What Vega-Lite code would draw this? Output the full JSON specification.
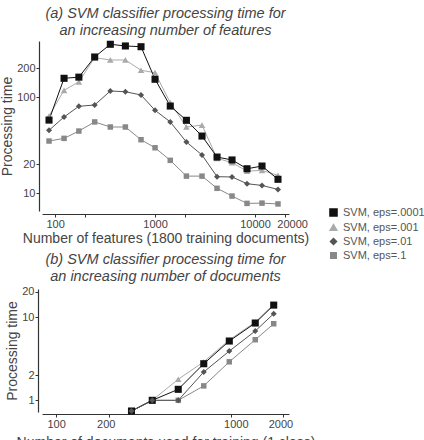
{
  "$schema": "https://vega.github.io/schema/vega-lite/v6.json",
  "padding": {"left": 0, "top": 6, "right": 0, "bottom": 0},
  "background": "white",
  "spacing": 78,
  "bounds": "flush",
  "config": {
    "font": "Liberation Sans",
    "view": {"stroke": null},
    "axis": {"domainColor": "#333", "tickColor": "#333", "labelColor": "#444", "titleColor": "#444", "labelFont": "Liberation Sans", "titleFont": "Liberation Sans", "labelFontSize": 11, "titleFontSize": 14, "titleFontWeight": "normal", "grid": false, "tickSize": 3, "labelPadding": 1, "domainWidth": 1.2, "labelOverlap": false, "labelBound": false, "labelFlush": false, "titlePadding": 2},
    "title": {"font": "Liberation Sans", "fontStyle": "italic", "fontWeight": "normal", "fontSize": 14.5, "color": "#444", "anchor": "middle", "lineHeight": 17},
    "legend": {"labelFont": "Liberation Sans", "labelFontSize": 11, "labelColor": "#555", "symbolSize": 25, "rowPadding": 1}
  },
  "resolve": {
    "scale": {"color": "independent", "shape": "independent", "size": "independent"},
    "legend": {"color": "independent", "shape": "independent", "size": "independent"}
  },
  "datasets": {
    "a": [
      {"series": "SVM, eps=.1", "features": 87, "time": 34.8},
      {"series": "SVM, eps=.1", "features": 123, "time": 37.1},
      {"series": "SVM, eps=.1", "features": 173, "time": 44.2},
      {"series": "SVM, eps=.1", "features": 249, "time": 55},
      {"series": "SVM, eps=.1", "features": 357, "time": 48.7},
      {"series": "SVM, eps=.1", "features": 505, "time": 48.7},
      {"series": "SVM, eps=.1", "features": 724, "time": 35.9},
      {"series": "SVM, eps=.1", "features": 1000, "time": 29.6},
      {"series": "SVM, eps=.1", "features": 1420, "time": 21.9},
      {"series": "SVM, eps=.1", "features": 2060, "time": 15.0},
      {"series": "SVM, eps=.1", "features": 2950, "time": 15.0},
      {"series": "SVM, eps=.1", "features": 4170, "time": 11.2},
      {"series": "SVM, eps=.1", "features": 5890, "time": 9.3},
      {"series": "SVM, eps=.1", "features": 8320, "time": 7.8},
      {"series": "SVM, eps=.1", "features": 11750, "time": 7.85},
      {"series": "SVM, eps=.1", "features": 16980, "time": 7.7},
      {"series": "SVM, eps=.01", "features": 87, "time": 45},
      {"series": "SVM, eps=.01", "features": 123, "time": 62},
      {"series": "SVM, eps=.01", "features": 173, "time": 80},
      {"series": "SVM, eps=.01", "features": 249, "time": 82.6},
      {"series": "SVM, eps=.01", "features": 357, "time": 115.5},
      {"series": "SVM, eps=.01", "features": 505, "time": 113.5},
      {"series": "SVM, eps=.01", "features": 724, "time": 105},
      {"series": "SVM, eps=.01", "features": 1000, "time": 72.7},
      {"series": "SVM, eps=.01", "features": 1420, "time": 55},
      {"series": "SVM, eps=.01", "features": 2060, "time": 34},
      {"series": "SVM, eps=.01", "features": 2950, "time": 24.9},
      {"series": "SVM, eps=.01", "features": 4170, "time": 14.8},
      {"series": "SVM, eps=.01", "features": 5890, "time": 14.7},
      {"series": "SVM, eps=.01", "features": 8320, "time": 12.5},
      {"series": "SVM, eps=.01", "features": 11750, "time": 12.0},
      {"series": "SVM, eps=.01", "features": 16980, "time": 10.9},
      {"series": "SVM, eps=.001", "features": 87, "time": 63.4},
      {"series": "SVM, eps=.001", "features": 123, "time": 117.5},
      {"series": "SVM, eps=.001", "features": 173, "time": 144},
      {"series": "SVM, eps=.001", "features": 249, "time": 257},
      {"series": "SVM, eps=.001", "features": 357, "time": 243},
      {"series": "SVM, eps=.001", "features": 505, "time": 243},
      {"series": "SVM, eps=.001", "features": 724, "time": 190},
      {"series": "SVM, eps=.001", "features": 1000, "time": 179},
      {"series": "SVM, eps=.001", "features": 1420, "time": 87.2},
      {"series": "SVM, eps=.001", "features": 2060, "time": 48.7},
      {"series": "SVM, eps=.001", "features": 2950, "time": 51},
      {"series": "SVM, eps=.001", "features": 4170, "time": 23.0},
      {"series": "SVM, eps=.001", "features": 5890, "time": 20.7},
      {"series": "SVM, eps=.001", "features": 8320, "time": 16.9},
      {"series": "SVM, eps=.001", "features": 11750, "time": 17.2},
      {"series": "SVM, eps=.001", "features": 16980, "time": 15.3},
      {"series": "SVM, eps=.0001", "features": 87, "time": 57.5},
      {"series": "SVM, eps=.0001", "features": 123, "time": 156.6},
      {"series": "SVM, eps=.0001", "features": 173, "time": 161},
      {"series": "SVM, eps=.0001", "features": 249, "time": 261},
      {"series": "SVM, eps=.0001", "features": 357, "time": 354},
      {"series": "SVM, eps=.0001", "features": 505, "time": 340},
      {"series": "SVM, eps=.0001", "features": 724, "time": 334},
      {"series": "SVM, eps=.0001", "features": 1000, "time": 153},
      {"series": "SVM, eps=.0001", "features": 1420, "time": 80.5},
      {"series": "SVM, eps=.0001", "features": 2060, "time": 57.2},
      {"series": "SVM, eps=.0001", "features": 2950, "time": 39.2},
      {"series": "SVM, eps=.0001", "features": 4170, "time": 23.7},
      {"series": "SVM, eps=.0001", "features": 5890, "time": 22.1},
      {"series": "SVM, eps=.0001", "features": 8320, "time": 17.9},
      {"series": "SVM, eps=.0001", "features": 11750, "time": 19.1},
      {"series": "SVM, eps=.0001", "features": 16980, "time": 13.9}
    ],
    "b": [
      {"series": "SVM, eps=.1", "docs": 270, "time": 0.744},
      {"series": "SVM, eps=.1", "docs": 355, "time": 1.0},
      {"series": "SVM, eps=.1", "docs": 500, "time": 1.0},
      {"series": "SVM, eps=.1", "docs": 700, "time": 1.49},
      {"series": "SVM, eps=.1", "docs": 980, "time": 2.9},
      {"series": "SVM, eps=.1", "docs": 1380, "time": 5.34},
      {"series": "SVM, eps=.1", "docs": 1760, "time": 8.3},
      {"series": "SVM, eps=.001", "docs": 270, "time": 0.744},
      {"series": "SVM, eps=.001", "docs": 355, "time": 1.0},
      {"series": "SVM, eps=.001", "docs": 500, "time": 1.79},
      {"series": "SVM, eps=.001", "docs": 700, "time": 2.9},
      {"series": "SVM, eps=.001", "docs": 980, "time": 5.3},
      {"series": "SVM, eps=.001", "docs": 1380, "time": 8.7},
      {"series": "SVM, eps=.001", "docs": 1760, "time": 14.2},
      {"series": "SVM, eps=.0001", "docs": 270, "time": 0.744},
      {"series": "SVM, eps=.0001", "docs": 355, "time": 1.0},
      {"series": "SVM, eps=.0001", "docs": 500, "time": 1.355},
      {"series": "SVM, eps=.0001", "docs": 700, "time": 2.75},
      {"series": "SVM, eps=.0001", "docs": 980, "time": 5.15},
      {"series": "SVM, eps=.0001", "docs": 1380, "time": 8.47},
      {"series": "SVM, eps=.0001", "docs": 1760, "time": 13.9},
      {"series": "SVM, eps=.01", "docs": 270, "time": 0.744},
      {"series": "SVM, eps=.01", "docs": 355, "time": 1.0},
      {"series": "SVM, eps=.01", "docs": 500, "time": 1.0},
      {"series": "SVM, eps=.01", "docs": 700, "time": 2.19},
      {"series": "SVM, eps=.01", "docs": 980, "time": 3.9},
      {"series": "SVM, eps=.01", "docs": 1380, "time": 6.79},
      {"series": "SVM, eps=.01", "docs": 1760, "time": 10.96}
    ]
  },
  "vconcat": [
    {
      "title": {"text": ["(a) SVM classifier processing time for", "an increasing number of features"], "offset": 2},
      "width": 247,
      "height": 170,
      "data": {"name": "a"},
      "encoding": {
        "x": {"field": "features", "type": "quantitative", "scale": {"type": "log", "domain": [74, 21880], "nice": false}, "axis": {"values": [100, 200, 1000, 2000, 10000, 20000], "format": "d", "labelExpr": "datum.value == 200 || datum.value == 2000 ? '' : datum.label", "labelOffset": {"condition": {"test": "datum.value == 20000", "value": 7}, "value": 0}, "title": "Number of features (1800 training documents)", "offset": 3}},
        "y": {"field": "time", "type": "quantitative", "scale": {"type": "log", "domain": [6.5, 383], "nice": false}, "axis": {"values": [10, 20, 100, 200], "format": "d", "title": "Processing time", "offset": 3}},
        "color": {"field": "series", "type": "nominal", "scale": {"domain": ["SVM, eps=.0001", "SVM, eps=.001", "SVM, eps=.01", "SVM, eps=.1"], "range": ["#111111", "#aaaaaa", "#555555", "#888888"]}, "legend": {"title": null, "orient": "none", "legendX": 286, "legendY": 166}}
      },
      "layer": [
        {"mark": {"type": "line", "strokeWidth": 1}, "encoding": {}},
        {"mark": {"type": "point", "filled": true, "opacity": 1}, "encoding": {
          "shape": {"field": "series", "type": "nominal", "scale": {"domain": ["SVM, eps=.0001", "SVM, eps=.001", "SVM, eps=.01", "SVM, eps=.1"], "range": ["square", "triangle-up", "diamond", "square"]}, "legend": {"title": null, "orient": "none", "legendX": 286, "legendY": 166}},
          "size": {"field": "series", "type": "nominal", "scale": {"domain": ["SVM, eps=.0001", "SVM, eps=.001", "SVM, eps=.01", "SVM, eps=.1"], "range": [50, 30, 30, 22]}, "legend": null}
        }}
      ]
    },
    {
      "title": {"text": ["(b) SVM classifier processing time for", "an increasing number of documents"], "offset": 1},
      "width": 247,
      "height": 123,
      "data": {"name": "b"},
      "encoding": {
        "x": {"field": "docs", "type": "quantitative", "scale": {"type": "log", "domain": [83, 2153], "nice": false}, "axis": {"values": [100, 200, 1000, 2000], "format": "d", "labelOffset": {"condition": [{"test": "datum.value == 200", "value": -3}, {"test": "datum.value == 1000", "value": 5}, {"test": "datum.value == 2000", "value": -3}], "value": 0}, "title": "Number of documents used for training (1 class)", "titlePadding": 6, "offset": 2}},
        "y": {"field": "time", "type": "quantitative", "scale": {"type": "log", "domain": [0.724, 21.7], "nice": false}, "axis": {"values": [1, 2, 10, 20], "format": "d", "title": "Processing time", "offset": 4}},
        "color": {"field": "series", "type": "nominal", "scale": {"domain": ["SVM, eps=.0001", "SVM, eps=.001", "SVM, eps=.01", "SVM, eps=.1"], "range": ["#111111", "#aaaaaa", "#555555", "#888888"]}, "legend": null}
      },
      "layer": [
        {"mark": {"type": "line", "strokeWidth": 1}, "encoding": {}},
        {"mark": {"type": "point", "filled": true, "opacity": 1}, "encoding": {
          "shape": {"field": "series", "type": "nominal", "scale": {"domain": ["SVM, eps=.0001", "SVM, eps=.001", "SVM, eps=.01", "SVM, eps=.1"], "range": ["square", "triangle-up", "diamond", "square"]}, "legend": null},
          "size": {"field": "series", "type": "nominal", "scale": {"domain": ["SVM, eps=.0001", "SVM, eps=.001", "SVM, eps=.01", "SVM, eps=.1"], "range": [50, 30, 30, 22]}, "legend": null}
        }}
      ]
    }
  ]
}
